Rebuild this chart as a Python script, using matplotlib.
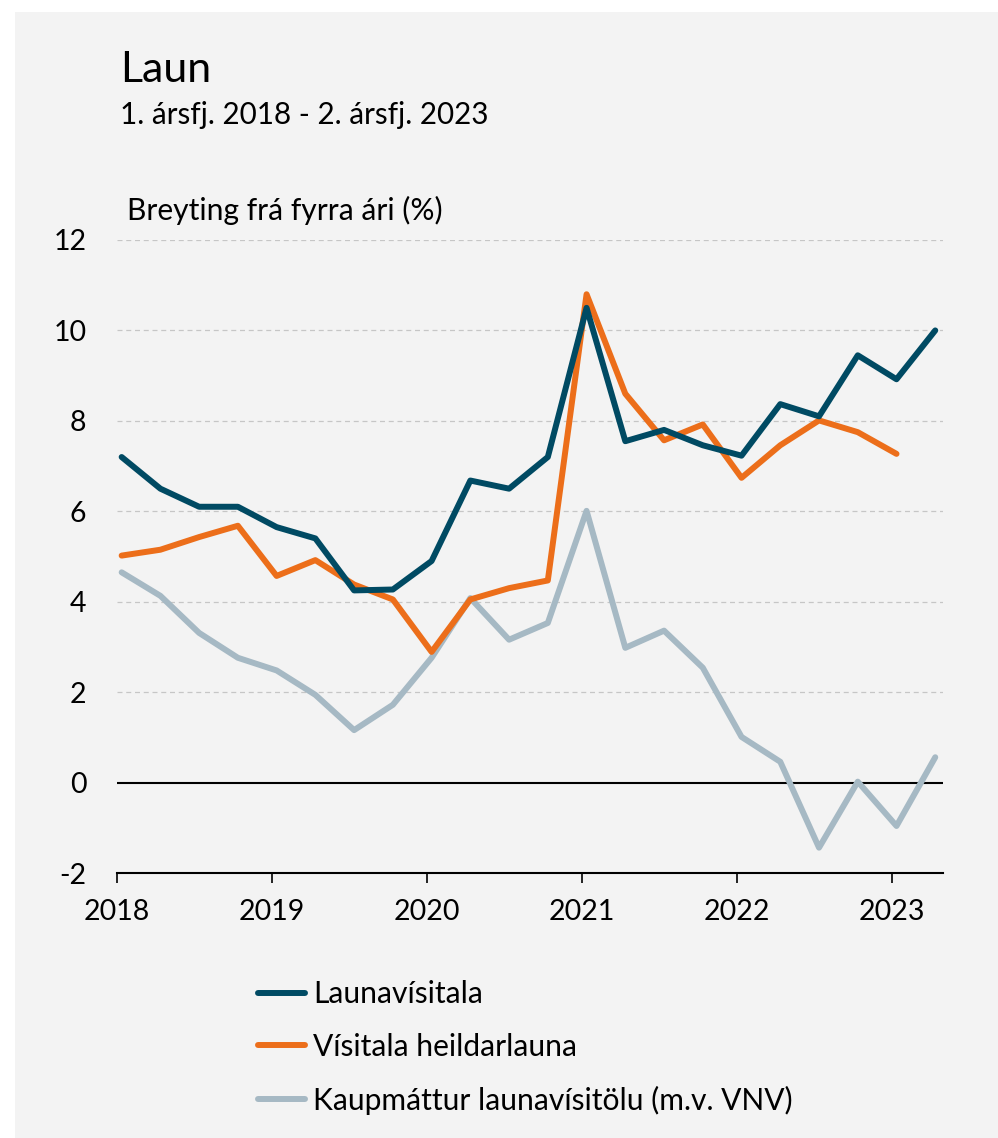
import matplotlib
matplotlib.use("Agg")
import matplotlib.pyplot as plt
from matplotlib.patches import Rectangle

plt.rcParams['font.family'] = ['Lato', 'DejaVu Sans']
plt.rcParams['axes.unicode_minus'] = False

# quarters 2018 Q1 .. 2023 Q2
years = [2018] * 4 + [2019] * 4 + [2020] * 4 + [2021] * 4 + [2022] * 4 + [2023] * 2
quarters = [1, 2, 3, 4] * 5 + [1, 2]

launavisitala = [7.2, 6.5, 6.1, 6.1, 5.65, 5.4, 4.25, 4.27, 4.9, 6.68, 6.5, 7.2,
                 10.5, 7.55, 7.8, 7.46, 7.23, 8.37, 8.1, 9.45, 8.92, 10.0]
heildarlaun = [5.02, 5.15, 5.43, 5.68, 4.57, 4.92, 4.38, 4.05, 2.89, 4.05, 4.3, 4.47,
               10.8, 8.6, 7.57, 7.92, 6.74, 7.46, 8.01, 7.75, 7.27]
kaupmattur = [4.65, 4.13, 3.31, 2.76, 2.48, 1.94, 1.16, 1.72, 2.76, 4.08, 3.16, 3.53,
              6.01, 2.98, 3.36, 2.54, 1.01, 0.46, -1.44, 0.02, -0.96, 0.56]

labels = ['Launavísitala', 'Vísitala heildarlauna', 'Kaupmáttur launavísitölu (m.v. VNV)']
colors = ['#004a63', '#ec6e1a', '#a6b9c4']

x = [y + (q - 1) / 4 + 0.03 for y, q in zip(years, quarters)]

fig = plt.figure(figsize=(9.98, 11.38), dpi=100)
fig.patch.set_facecolor('white')
fig.patches.append(Rectangle((15 / 998, 0), 1 - 15 / 998, 1 - 12 / 1138,
                             transform=fig.transFigure, facecolor='#f3f3f3',
                             edgecolor='none', zorder=-10))

ax = fig.add_axes([117 / 998, 1 - 873 / 1138, (943 - 117) / 998, (873 - 240) / 1138])
ax.set_facecolor('none')

series = [launavisitala, heildarlaun, kaupmattur]
for i in [2, 1, 0]:
    vals = series[i]
    ax.plot(x[:len(vals)], vals, color=colors[i], lw=4.3, label=labels[i],
            solid_joinstyle='round', solid_capstyle='round', zorder=3 + (2 - i))

ax.set_xlim(2018, 2023.33)
ax.set_ylim(-2, 12)
ax.set_yticks(range(-2, 13, 2))
ax.set_xticks(range(2018, 2024))
ax.set_xticklabels([str(v) for v in range(2018, 2024)])

for v in range(2, 13, 2):
    ax.axhline(v, color='#c6c6c6', lw=0.9, ls=(0, (4, 3)), zorder=1)
ax.axhline(0, color='black', lw=1.5, zorder=2)

for s in ['top', 'right', 'left']:
    ax.spines[s].set_visible(False)
ax.spines['bottom'].set_linewidth(1.5)
ax.spines['bottom'].set_color('black')

ax.tick_params(axis='y', length=0, pad=22, labelsize=20.5)
ax.tick_params(axis='x', length=7, width=1.2, pad=12, labelsize=20.5, direction='out')

fig.text(120 / 998, 1 - 82 / 1138, 'Laun', fontsize=31, va='baseline', ha='left')
fig.text(120 / 998, 1 - 124 / 1138, '1. ársfj. 2018 - 2. ársfj. 2023', fontsize=21.3,
         va='baseline', ha='left')
fig.text(127 / 998, 1 - 220 / 1138, 'Breyting frá fyrra ári (%)', fontsize=21.6,
         va='baseline', ha='left')

handles, labs = ax.get_legend_handles_labels()
fig.legend(handles[::-1], labs[::-1], loc='upper left',
           bbox_to_anchor=(258 / 998, 1 - 980 / 1138),
           frameon=False, fontsize=21.6, handlelength=1.57, handletextpad=0.27,
           labelspacing=0.83, borderaxespad=0, borderpad=0)

fig.savefig('out.png', dpi=100, facecolor=fig.get_facecolor())
